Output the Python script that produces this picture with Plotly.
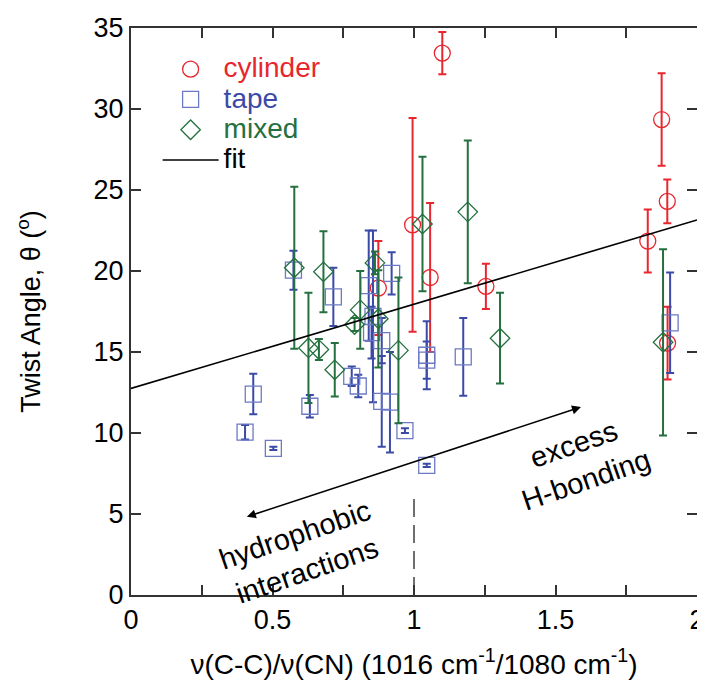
import plotly.graph_objects as go

# ---- data ----
cyl_x = [1.10, 0.995, 1.057, 1.254, 0.874, 1.826, 1.875, 1.895, 1.896]
cyl_y = [33.45, 22.85, 19.6, 19.05, 18.95, 21.85, 29.35, 24.3, 15.55]
cyl_err = [1.3, 6.6, 4.6, 1.4, 2.9, 1.95, 2.85, 1.35, 2.25]

tape_x = [0.403, 0.432, 0.503, 0.574, 0.632, 0.715, 0.78, 0.803, 0.84, 0.855,
          0.85, 0.886, 0.886, 0.915, 0.921, 0.968, 1.045, 1.045, 1.045, 1.174, 1.905]
tape_y = [10.05, 12.4, 9.05, 20.05, 11.65, 18.4, 13.5, 12.9, 19.1, 17.2,
          16.2, 15.7, 11.95, 11.9, 19.85, 10.15, 14.8, 14.5, 8.0, 14.7, 16.8]
tape_err = [0.45, 1.25, 0.1, 1.2, 0.7, 1.8, 0.6, 0.7, 3.4, 5.3,
            1.6, 1.4, 2.8, 3.1, 1.3, 0.15, 2.1, 1.15, 0.1, 2.4, 3.1]

mixed_x = [0.577, 0.627, 0.664, 0.68, 0.72, 0.79, 0.81, 0.862, 0.874, 0.945,
           1.03, 1.19, 1.304, 1.88]
mixed_y = [20.2, 15.25, 15.15, 19.95, 13.9, 16.7, 17.6, 20.5, 17.05, 15.1,
           22.9, 23.65, 15.85, 15.6]
mixed_err = [5.0, 3.4, 0.65, 2.5, 1.65, 0.4, 2.4, 0.7, 3.0, 4.5,
             4.15, 4.4, 2.8, 5.75]

fit_intercept = 12.75
fit_slope = 5.2
fit_x = [0.0, 2.0]

divider_x = [1.0, 1.0]
divider_y = [0.0, 6.4]

x_tickvals = [0, 0.25, 0.5, 0.75, 1.0, 1.25, 1.5, 1.75, 2.0]
x_ticktext = ["0", "", "0.5", "", "1", "", "1.5", "", "2"]
y_tickvals = [0, 5, 10, 15, 20, 25, 30, 35]

RED = "#E8262E"
BLUE = "#3B4AA6"
BLUE_L = "#6C7AC4"
GREEN = "#24703F"
FONT = "Liberation Sans, Arial, sans-serif"
LEG = "font-size:28px"

fig = go.Figure()

fig.add_trace(go.Scatter(
    x=cyl_x, y=cyl_y, mode="markers",
    name=f"<span style='color:{RED};{LEG}'>cylinder</span>",
    marker=dict(symbol="circle-open", size=16, color=RED, line=dict(width=1.3, color=RED)),
    error_y=dict(type="data", array=cyl_err, color=RED, thickness=2, width=4),
))
fig.add_trace(go.Scatter(
    x=tape_x, y=tape_y, mode="markers",
    name=f"<span style='color:{BLUE};{LEG}'>tape</span>",
    marker=dict(symbol="square-open", size=16, color=BLUE_L, line=dict(width=1.3, color=BLUE_L)),
    error_y=dict(type="data", array=tape_err, color=BLUE, thickness=2, width=4),
))
fig.add_trace(go.Scatter(
    x=mixed_x, y=mixed_y, mode="markers",
    name=f"<span style='color:{GREEN};{LEG}'>mixed</span>",
    marker=dict(symbol="diamond-open", size=15, color=GREEN, line=dict(width=1.3, color=GREEN)),
    error_y=dict(type="data", array=mixed_err, color=GREEN, thickness=2, width=4),
))
fig.add_trace(go.Scatter(
    x=fit_x, y=[fit_intercept + fit_slope * v for v in fit_x], mode="lines",
    name=f"<span style='color:black;{LEG}'>fit</span>",
    line=dict(color="black", width=1.6),
))
fig.add_trace(go.Scatter(
    x=divider_x, y=divider_y, mode="lines", showlegend=False,
    line=dict(color="#222", width=1.3, dash="18px,8px"),
))

fig.add_annotation(x=1.59, y=11.6, ax=0.404, ay=4.8, xref="x", yref="y",
                   axref="x", ayref="y", text="", showarrow=True,
                   arrowhead=2, startarrowhead=2, arrowside="end+start",
                   arrowsize=1.2, startarrowsize=1.2, arrowwidth=1.5, arrowcolor="black")
fig.add_annotation(x=1.587, y=8.2, xref="x", yref="y", text="excess<br>H-bonding",
                   showarrow=False, textangle=-19,
                   font=dict(family=FONT, size=29, color="black"))
fig.add_annotation(x=0.599, y=2.6, xref="x", yref="y", text="hydrophobic<br>interactions",
                   showarrow=False, textangle=-19,
                   font=dict(family=FONT, size=29, color="black"))

axis_common = dict(showgrid=False, zeroline=False, ticks="inside", ticklen=10,
                   tickwidth=1.5, tickcolor="#333", showline=True, linecolor="#333",
                   linewidth=2, mirror="ticks", automargin=False,
                   tickfont=dict(family=FONT, size=27, color="black"))

# the page body adds an 8px offset, so margins are shifted to compensate
fig.update_layout(
    width=705, height=686,
    margin=dict(l=123, r=16, t=20, b=99),
    paper_bgcolor="white", plot_bgcolor="white",
    font=dict(family=FONT, color="black"),
    xaxis=dict(range=[0, 2], tickmode="array", tickvals=x_tickvals, ticktext=x_ticktext,
               title=dict(text="ν(C-C)/ν(CN) (1016 cm<sup>-1</sup>/1080 cm<sup>-1</sup>)",
                          font=dict(family=FONT, size=28), standoff=20),
               **axis_common),
    yaxis=dict(range=[0, 35], tickmode="array", tickvals=y_tickvals,
               title=dict(text="Twist Angle, θ (<sup>o</sup>)",
                          font=dict(family=FONT, size=27), standoff=45),
               **axis_common),
    legend=dict(x=0.047, y=0.963, xanchor="left", yanchor="top",
                bgcolor="rgba(0,0,0,0)", font=dict(family=FONT, size=21),
                tracegroupgap=0, itemwidth=56),
    showlegend=True,
)

fig.write_html("out.html")
